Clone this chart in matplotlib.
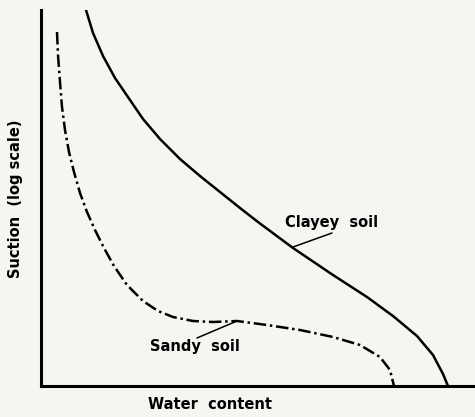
import matplotlib.pyplot as plt

# water content and suction (log scale), arbitrary units
clay_w = [45, 52, 62, 74, 89, 102, 119, 139, 159, 179, 199, 217, 252, 292, 326,
          352, 376, 392, 402, 407]
clay_s = [376, 353, 330, 308, 286, 267, 247, 227, 210, 194, 178, 164, 138, 111, 89,
          70, 50, 31, 12, 0]

sand_w = [16, 17, 19, 21, 24, 28, 33, 39, 46, 54, 63, 73, 86, 102, 117, 132, 152,
          172, 196, 226, 259, 292, 319, 339, 349, 353]
sand_s = [354, 331, 304, 279, 256, 234, 214, 193, 174, 156, 138, 120, 101, 85, 75, 69, 65,
          64, 65, 61, 56, 49, 41, 29, 16, 0]

bg = '#f5f5f2'
fig = plt.figure(figsize=(4.75, 4.17), dpi=100, facecolor=bg)
ax = fig.add_axes([41/475, 1 - 386/417, 1 - 41/475, 376/417])
ax.set_facecolor(bg)

ax.plot(clay_w, clay_s, color='black', lw=1.8, solid_joinstyle='round')
ax.plot(sand_w, sand_s, color='black', lw=1.8, linestyle=(0, (5, 1.5, 1, 1.5)),
        dash_joinstyle='round')

ax.set_xlim(0, 434)
ax.set_ylim(0, 376)
for side in ['top', 'right']:
    ax.spines[side].set_visible(False)
for side in ['left', 'bottom']:
    ax.spines[side].set_linewidth(2.2)
ax.set_xticks([])
ax.set_yticks([])

font = dict(family='DejaVu Sans', fontsize=10.5, fontweight='bold')
ax.set_xlabel('Water  content', **font)
ax.xaxis.set_label_coords(0.389, -0.03)
ax.set_ylabel('Suction  (log scale)', **font)
ax.yaxis.set_label_coords(-0.041, 0.497)

line = dict(arrowstyle='-', lw=1.1, color='black', shrinkA=0, shrinkB=0)
ax.text(244, 164, 'Clayey  soil', va='center', ha='left', **font)
ax.annotate('', xy=(252, 139), xytext=(291, 153), arrowprops=line)
ax.text(109, 40, 'Sandy  soil', va='center', ha='left', **font)
ax.annotate('', xy=(196, 65), xytext=(156, 48), arrowprops=line)

fig.savefig('out.png', dpi=100, facecolor=bg)
